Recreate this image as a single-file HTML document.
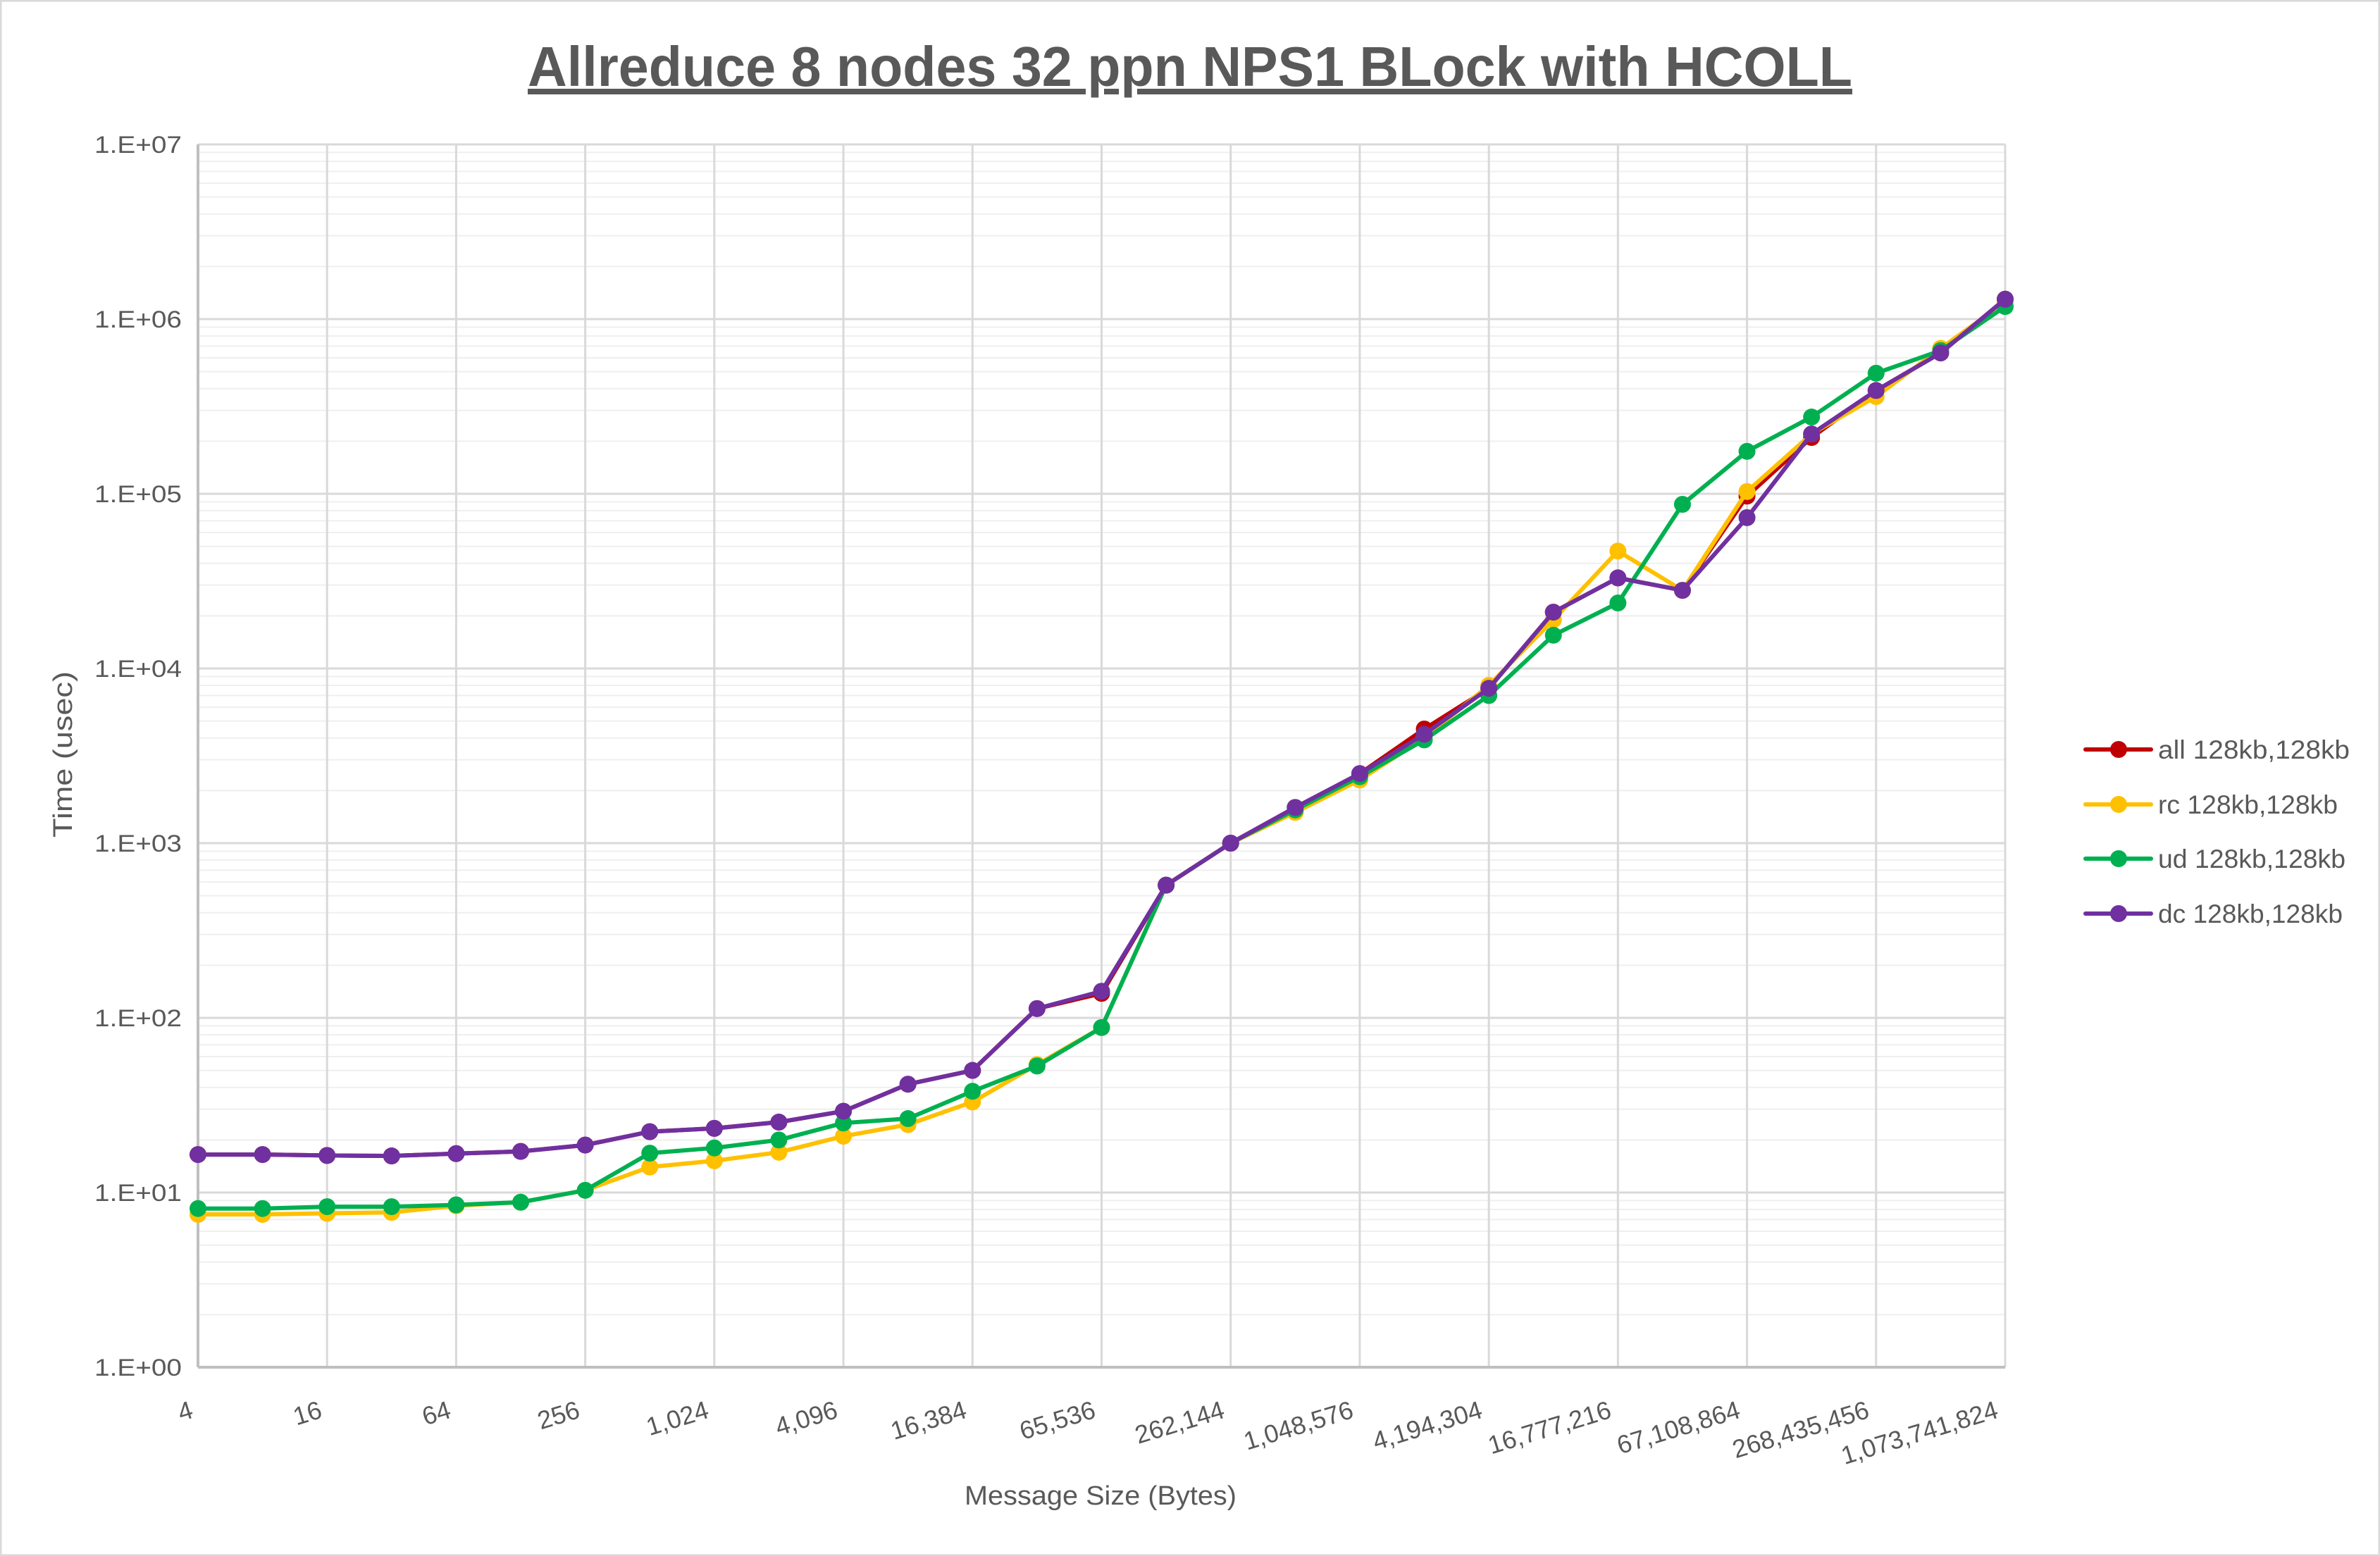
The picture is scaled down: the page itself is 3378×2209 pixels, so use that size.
<!DOCTYPE html>
<html><head><meta charset="utf-8"><style>
html,body{margin:0;padding:0;background:#fff}
svg{display:block}
text{font-family:"Liberation Sans",sans-serif;fill:#595959}
</style></head><body>
<svg id="c" width="3378" height="2209" xmlns="http://www.w3.org/2000/svg">
<rect x="1" y="1" width="3376" height="2207" fill="#fff" stroke="#d9d9d9" stroke-width="3"/>
<g id="grid"></g>
<text x="1689" y="122" text-anchor="middle" font-size="80" font-weight="bold" textLength="1880" lengthAdjust="spacingAndGlyphs" text-decoration="underline">Allreduce 8 nodes 32 ppn NPS1 BLock with HCOLL</text>
<g font-size="34" text-anchor="end">
<text x="258" y="217" textLength="124" lengthAdjust="spacingAndGlyphs">1.E+07</text>
<text x="258" y="465" textLength="124" lengthAdjust="spacingAndGlyphs">1.E+06</text>
<text x="258" y="713" textLength="124" lengthAdjust="spacingAndGlyphs">1.E+05</text>
<text x="258" y="961" textLength="124" lengthAdjust="spacingAndGlyphs">1.E+04</text>
<text x="258" y="1209" textLength="124" lengthAdjust="spacingAndGlyphs">1.E+03</text>
<text x="258" y="1457" textLength="124" lengthAdjust="spacingAndGlyphs">1.E+02</text>
<text x="258" y="1705" textLength="124" lengthAdjust="spacingAndGlyphs">1.E+01</text>
<text x="258" y="1953" textLength="124" lengthAdjust="spacingAndGlyphs">1.E+00</text>
</g>
<g font-size="36" text-anchor="end">
<text transform="translate(276,2012) rotate(-17)">4</text>
<text transform="translate(459,2012) rotate(-17)">16</text>
<text transform="translate(642,2012) rotate(-17)">64</text>
<text transform="translate(825,2012) rotate(-17)">256</text>
<text transform="translate(1008,2012) rotate(-17)">1,024</text>
<text transform="translate(1191,2012) rotate(-17)">4,096</text>
<text transform="translate(1374,2012) rotate(-17)">16,384</text>
<text transform="translate(1557,2012) rotate(-17)">65,536</text>
<text transform="translate(1740,2012) rotate(-17)">262,144</text>
<text transform="translate(1923,2012) rotate(-17)">1,048,576</text>
<text transform="translate(2106,2012) rotate(-17)">4,194,304</text>
<text transform="translate(2289,2012) rotate(-17)">16,777,216</text>
<text transform="translate(2472,2012) rotate(-17)">67,108,864</text>
<text transform="translate(2655,2012) rotate(-17)">268,435,456</text>
<text transform="translate(2838,2012) rotate(-17)">1,073,741,824</text>
</g>
<text x="1562" y="2136" text-anchor="middle" font-size="38" textLength="386" lengthAdjust="spacingAndGlyphs">Message Size (Bytes)</text>
<text transform="translate(102,1071) rotate(-90)" text-anchor="middle" font-size="38" textLength="236" lengthAdjust="spacingAndGlyphs">Time (usec)</text>
<g id="series"></g>
<g font-size="37">
<line x1="2960" y1="1064" x2="3053" y2="1064" stroke="#c00000" stroke-width="6" stroke-linecap="round"/><circle cx="3007" cy="1064" r="12" fill="#c00000"/>
<text x="3063" y="1077" textLength="272" lengthAdjust="spacingAndGlyphs">all 128kb,128kb</text>
<line x1="2960" y1="1142" x2="3053" y2="1142" stroke="#ffc000" stroke-width="6" stroke-linecap="round"/><circle cx="3007" cy="1142" r="12" fill="#ffc000"/>
<text x="3063" y="1155" textLength="255" lengthAdjust="spacingAndGlyphs">rc 128kb,128kb</text>
<line x1="2960" y1="1219" x2="3053" y2="1219" stroke="#00b050" stroke-width="6" stroke-linecap="round"/><circle cx="3007" cy="1219" r="12" fill="#00b050"/>
<text x="3063" y="1232" textLength="266" lengthAdjust="spacingAndGlyphs">ud 128kb,128kb</text>
<line x1="2960" y1="1297" x2="3053" y2="1297" stroke="#7030a0" stroke-width="6" stroke-linecap="round"/><circle cx="3007" cy="1297" r="12" fill="#7030a0"/>
<text x="3063" y="1310" textLength="262" lengthAdjust="spacingAndGlyphs">dc 128kb,128kb</text>
</g>
</svg>
<script>
(function(){
var NS="http://www.w3.org/2000/svg";
var L=281,R=2846,T=205,B=1941,D=(B-T)/7,S=(R-L)/28;
function el(p,n,a){var e=document.createElementNS(NS,n);for(var k in a)e.setAttribute(k,a[k]);p.appendChild(e);return e;}
var g=document.getElementById('grid');
for(var d=0;d<7;d++)for(var m=2;m<10;m++){var y=B-D*(d+Math.log10(m));el(g,'line',{x1:L,x2:R,y1:y,y2:y,stroke:'#efefef','stroke-width':2});}
for(var d=0;d<8;d++){var y=B-D*d;el(g,'line',{x1:L,x2:R,y1:y,y2:y,stroke:'#d9d9d9','stroke-width':3});}
for(var i=2;i<=28;i+=2){var x=L+S*i;el(g,'line',{x1:x,x2:x,y1:T,y2:B,stroke:'#d9d9d9','stroke-width':3});}
el(g,'line',{x1:L,x2:L,y1:T,y2:B,stroke:'#bfbfbf','stroke-width':4});
el(g,'line',{x1:L,x2:R,y1:B,y2:B,stroke:'#bfbfbf','stroke-width':4});
var dc=[16.5,16.5,16.3,16.2,16.7,17.2,18.7,22.3,23.3,25.3,29.2,41.7,50,113,142,575,1000,1600,2500,4200,7700,21000,33000,28000,73000,220000,390000,640000,1300000];
var al=dc.slice();al[19]=4500;al[24]=97000;al[25]=210000;al[14]=138;
var rc=[7.5,7.5,7.6,7.7,8.4,8.8,10.3,14,15.2,17,21,24.5,33,54,88,575,1000,1500,2300,4000,8000,19000,47000,28000,103000,220000,360000,680000,1250000];
var ud=[8.1,8.1,8.3,8.3,8.5,8.8,10.3,16.8,18,20,25,26.5,38,53,88,575,1000,1550,2400,3900,7000,15500,23700,87000,175000,275000,490000,660000,1180000];
var s=document.getElementById('series');
[[al,'#c00000'],[rc,'#ffc000'],[ud,'#00b050'],[dc,'#7030a0']].forEach(function(p){
var pts=p[0].map(function(v,i){return [L+S*i,B-D*Math.log10(v)];});
el(s,'polyline',{points:pts.map(function(q){return q.join(',')}).join(' '),fill:'none',stroke:p[1],'stroke-width':6,'stroke-linejoin':'round'});
pts.forEach(function(q){el(s,'circle',{cx:q[0],cy:q[1],r:12,fill:p[1]});});
});
})();
</script>
</body></html>
